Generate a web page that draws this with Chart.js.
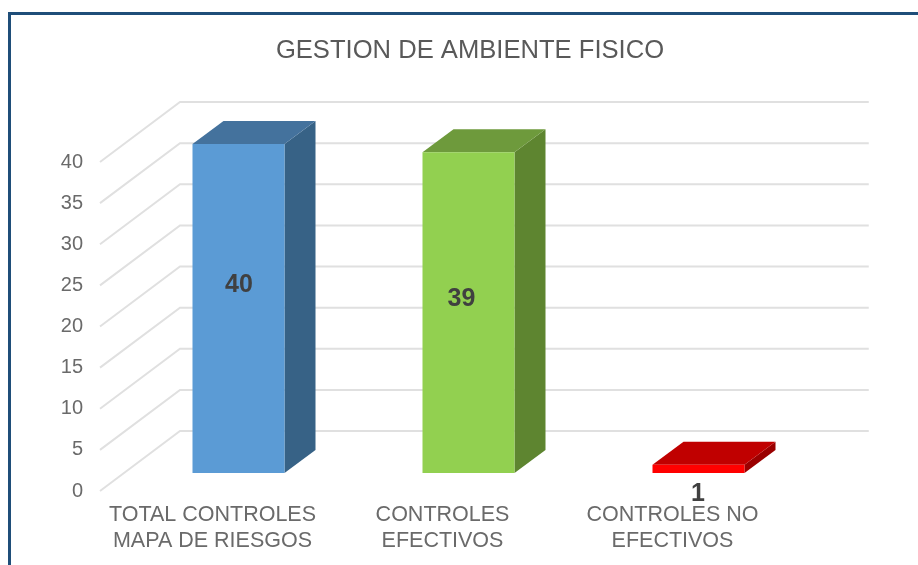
<!DOCTYPE html>
<html>
<head>
<meta charset="utf-8">
<style>
html,body{margin:0;padding:0;background:#fff;overflow:hidden;width:918px;height:565px}
#frame{position:absolute;left:8px;top:12px;right:0;bottom:0;border-top:3px solid #1f4e79;border-left:3px solid #1f4e79}
#wrap{position:absolute;left:22px;top:14px;width:896px;height:551px}
</style>
<script src="https://cdn.jsdelivr.net/npm/chart.js@4"></script>
</head>
<body>
<div id="frame"></div>
<div id="wrap"><canvas id="c" width="896" height="551"></canvas></div>
<script>
const chartTitle = 'GESTION DE AMBIENTE FISICO';
const categories = [['TOTAL CONTROLES','MAPA DE RIESGOS'],['CONTROLES','EFECTIVOS'],['CONTROLES NO','EFECTIVOS']];
const values = [40, 39, 1];
const frontColors = ['#5B9BD5','#92D050','#FF0000'];
const topColors = ['#44729D','#6E9A3C','#C00000'];
const sideColors = ['#376286','#5E8530','#9A0000'];
const labelOffsets = [[0.5,-23],[-7,-14],[-0.5,25]];

const FONT = '"Liberation Sans", Arial, sans-serif';
const shift = {x:26, y:-18};
const depth = {x:31, y:-23};
const wall = {x:80, y:-60};
const wallInset = 2.5;

const bars3d = {
  id:'bars3d',
  beforeDatasetsDraw(chart){
    const {ctx, scales:{y}, chartArea:a} = chart;
    ctx.save();
    ctx.strokeStyle = '#E0E0E0';
    ctx.lineWidth = 2;
    y.ticks.forEach(t=>{
      const py = y.getPixelForValue(t.value);
      ctx.beginPath();
      ctx.moveTo(a.left+wallInset, py);
      ctx.lineTo(a.left+wallInset+wall.x, py+wall.y);
      ctx.lineTo(a.right+wallInset/2+wall.x, py+wall.y);
      ctx.stroke();
    });
    ctx.restore();
    ctx.save();
    ctx.translate(shift.x, shift.y);
    chart.getDatasetMeta(0).data.forEach((b,i)=>{
      const l=b.x-b.width/2, r=b.x+b.width/2, t=b.y, bt=b.base;
      ctx.fillStyle = sideColors[i];
      ctx.beginPath();
      ctx.moveTo(r,t); ctx.lineTo(r+depth.x,t+depth.y);
      ctx.lineTo(r+depth.x,bt+depth.y); ctx.lineTo(r,bt);
      ctx.closePath(); ctx.fill();
      ctx.fillStyle = topColors[i];
      ctx.beginPath();
      ctx.moveTo(l,t); ctx.lineTo(l+depth.x,t+depth.y);
      ctx.lineTo(r+depth.x,t+depth.y); ctx.lineTo(r,t);
      ctx.closePath(); ctx.fill();
    });
  },
  afterDatasetsDraw(chart){
    const {ctx} = chart;
    ctx.restore();
    ctx.save();
    ctx.font = 'bold 25px '+FONT;
    ctx.fillStyle = '#404040';
    ctx.textAlign = 'center';
    ctx.textBaseline = 'middle';
    chart.getDatasetMeta(0).data.forEach((b,i)=>{
      const cy = (b.y+b.base)/2 + shift.y;
      ctx.fillText(String(values[i]), b.x+shift.x+labelOffsets[i][0], cy+labelOffsets[i][1]);
    });
    ctx.restore();
  }
};

new Chart(document.getElementById('c'),{
  type:'bar',
  data:{labels:categories,datasets:[{data:values,backgroundColor:frontColors,borderWidth:0,barPercentage:0.4,categoryPercentage:1}]},
  plugins:[bars3d],
  options:{
    responsive:false,
    animation:false,
    layout:{autoPadding:false,padding:0},
    plugins:{
      legend:{display:false},
      tooltip:{enabled:false},
      title:{display:true,text:chartTitle,color:'#595959',font:{family:FONT,size:25.6,weight:'normal',lineHeight:1.2},padding:{top:22,bottom:95.3}}
    },
    scales:{
      x:{
        grid:{display:false,drawTicks:false},
        border:{display:false},
        ticks:{color:'#6a6a6a',font:{family:FONT,size:21.5,lineHeight:1.21},padding:11,maxRotation:0,autoSkip:false},
        afterFit(s){s.height=74;}
      },
      y:{
        min:0,max:40,
        grid:{display:false,drawTicks:false},
        border:{display:false},
        ticks:{stepSize:5,color:'#6a6a6a',font:{family:FONT,size:20},padding:14.5},
        afterFit(s){s.width=75.5;}
      },
      yRight:{
        position:'right',
        min:0,max:40,
        grid:{display:false,drawTicks:false},
        border:{display:false},
        ticks:{display:false},
        afterFit(s){s.width=130.5;}
      }
    }
  }
});
</script>
</body>
</html>
